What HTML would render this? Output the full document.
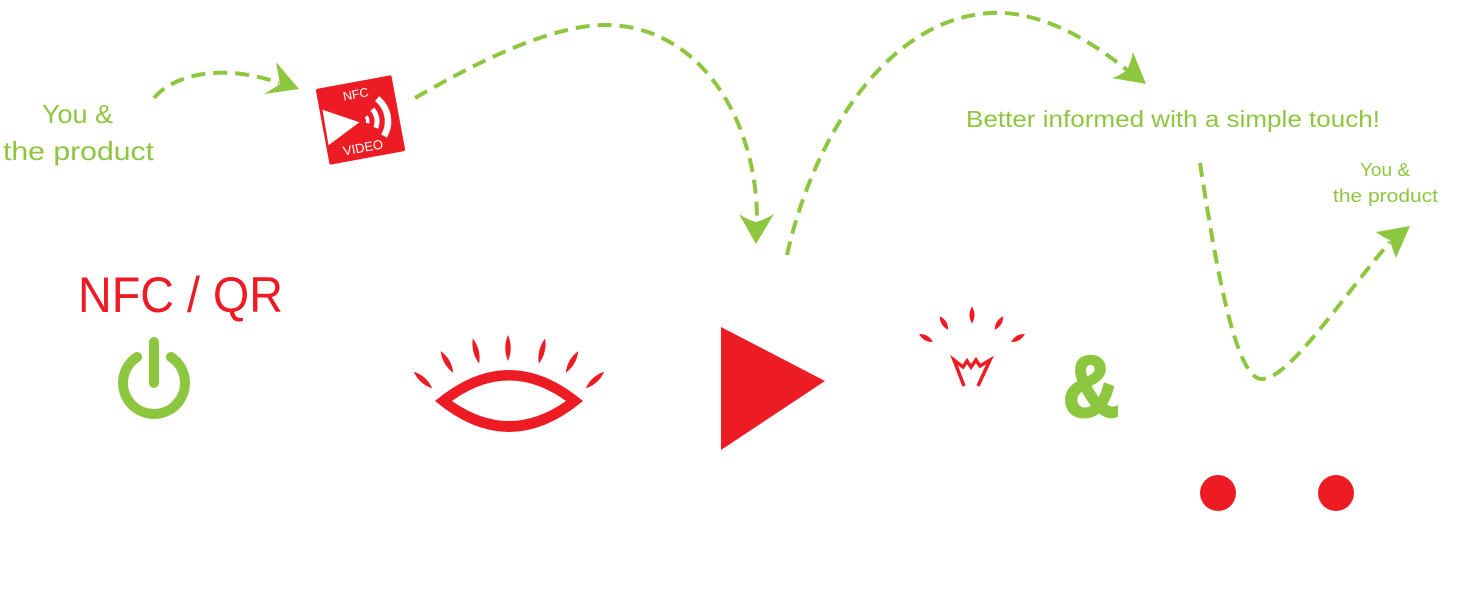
<!DOCTYPE html>
<html>
<head>
<meta charset="utf-8">
<style>
  html, body { margin:0; padding:0; background:#ffffff; }
  body { width:1462px; height:608px; overflow:hidden; }
  svg { display:block; }
  .g { fill:#8dc63f; font-family:"Liberation Sans", sans-serif; }
  .r { fill:#ed1c24; font-family:"Liberation Sans", sans-serif; }
</style>
</head>
<body>
<svg width="1462" height="608" viewBox="0 0 1462 608" xmlns="http://www.w3.org/2000/svg">
  <rect width="1462" height="608" fill="#ffffff"/>

  <!-- dashed connectors -->
  <g fill="none" stroke="#8dc63f" stroke-width="4" stroke-dasharray="14 8">
    <path d="M154,98 C172,76 220,62 279,83"/>
    <path d="M415,98 C460,72 545,25 605,25 C700,25 757,120 757,220"/>
    <path d="M787,255 C810,150 880,20 990,13 C1040,10 1090,40 1127,70"/>
    <path d="M1200,163 C1215,260 1235,380 1262,379 C1290,378 1340,300 1390,242"/>
  </g>
  <!-- arrowheads -->
  <g fill="#8dc63f">
    <path d="M276,62 L299,89 L264,94 Q274,88 280,84 Z"/>
    <path d="M739,214 Q748,220 756,222 Q764,220 774,214 L756,244 Z"/>
    <path d="M1133,52 L1146,84 L1112,78 Q1121,75 1127,70 Q1131,62 1133,52 Z"/>
    <path d="M1376,232 Q1384,238 1390,240 Q1392,248 1396,258 L1410,226 Z"/>
  </g>

  <!-- left label -->
  <text class="g" x="42" y="123" font-size="26" textLength="71" lengthAdjust="spacingAndGlyphs">You &amp;</text>
  <text class="g" x="3" y="160" font-size="26" textLength="151" lengthAdjust="spacingAndGlyphs">the product</text>

  <!-- NFC video tag -->
  <g transform="translate(360.5,120) rotate(-10.5)">
    <rect x="-38.5" y="-38.5" width="77" height="77" rx="2" fill="#ed1c24"/>
    <text x="0" y="-22" font-size="12.5" fill="#ffffff" text-anchor="middle" font-family="Liberation Sans, sans-serif">NFC</text>
    <text x="-2.5" y="32" font-size="13" fill="#ffffff" text-anchor="middle" font-family="Liberation Sans, sans-serif">VIDEO</text>
    <path d="M-35.5,-17 L-36,19 L-1.5,2 Z" fill="#ffffff"/>
    <g fill="none" stroke="#ffffff">
      <path d="M6.3,-2.5 A9,9 0 0 1 6.3,4.5" stroke-width="3.5"/>
      <path d="M13.6,-8.5 A18,18 0 0 1 13.6,10.5" stroke-width="5"/>
      <path d="M20.2,-18 A29,29 0 0 1 20.2,20" stroke-width="6.5"/>
    </g>
  </g>

  <!-- NFC / QR -->
  <text class="r" x="78" y="312" font-size="50" textLength="205" lengthAdjust="spacingAndGlyphs">NFC / QR</text>

  <!-- power icon -->
  <g fill="none" stroke="#8dc63f" stroke-width="10" stroke-linecap="round">
    <path d="M137.1,357 A31,31 0 1 0 170.9,357"/>
    <path d="M154,342 L154,383"/>
  </g>

  <!-- eye -->
  <path fill="#ed1c24" fill-rule="evenodd" d="M435,401 Q509,339 583,401 Q509,463 435,401 Z M452,401 Q509,360 566,401 Q509,441 452,401 Z"/>
  <g fill="#ed1c24">
    <path transform="translate(423,380) rotate(-48)" d="M0,-12.5 Q5.5,0 0,12.5 Q-5.5,0 0,-12.5 Z"/>
    <path transform="translate(447,362) rotate(-30)" d="M0,-12.5 Q5.5,0 0,12.5 Q-5.5,0 0,-12.5 Z"/>
    <path transform="translate(476,351) rotate(-14)" d="M0,-13 Q5.5,0 0,13 Q-5.5,0 0,-13 Z"/>
    <path transform="translate(508,348) rotate(0)" d="M0,-13 Q5.5,0 0,13 Q-5.5,0 0,-13 Z"/>
    <path transform="translate(542,351) rotate(14)" d="M0,-13 Q5.5,0 0,13 Q-5.5,0 0,-13 Z"/>
    <path transform="translate(572,362) rotate(30)" d="M0,-12.5 Q5.5,0 0,12.5 Q-5.5,0 0,-12.5 Z"/>
    <path transform="translate(595,380) rotate(48)" d="M0,-12.5 Q5.5,0 0,12.5 Q-5.5,0 0,-12.5 Z"/>
  </g>

  <!-- play triangle -->
  <path d="M721,327 L825,381 L721,450 Z" fill="#ed1c24"/>

  <!-- small crown icon -->
  <g fill="#ed1c24">
    <path transform="translate(926,338) rotate(-60)" d="M0,-8 Q5,0 0,8 Q-5,0 0,-8 Z"/>
    <path transform="translate(944,323) rotate(-32)" d="M0,-8 Q5,0 0,8 Q-5,0 0,-8 Z"/>
    <path transform="translate(972,315) rotate(0)" d="M0,-8.5 Q5,0 0,8.5 Q-5,0 0,-8.5 Z"/>
    <path transform="translate(999,323) rotate(32)" d="M0,-8 Q5,0 0,8 Q-5,0 0,-8 Z"/>
    <path transform="translate(1018,338) rotate(60)" d="M0,-8 Q5,0 0,8 Q-5,0 0,-8 Z"/>
  </g>
  <g fill="none" stroke="#ed1c24" stroke-width="3.5" stroke-linejoin="miter">
    <path d="M964,386 L954,360 L963,367 L967,361 L971,367 L976,360 L980,366 L990,360 L978,386"/>
  </g>

  <!-- ampersand -->
  <text class="g" x="1063" y="416" font-size="86" font-weight="bold" textLength="56" lengthAdjust="spacingAndGlyphs" stroke="#8dc63f" stroke-width="3">&amp;</text>

  <!-- right texts -->
  <text class="g" x="966" y="127" font-size="23" textLength="414" lengthAdjust="spacingAndGlyphs">Better informed with a simple touch!</text>
  <text class="g" x="1360" y="176" font-size="18" textLength="50" lengthAdjust="spacingAndGlyphs">You &amp;</text>
  <text class="g" x="1333" y="202" font-size="18" textLength="105" lengthAdjust="spacingAndGlyphs">the product</text>

  <!-- dots -->
  <circle cx="1218" cy="493" r="18" fill="#ed1c24"/>
  <circle cx="1336" cy="493" r="18" fill="#ed1c24"/>
</svg>
</body>
</html>
